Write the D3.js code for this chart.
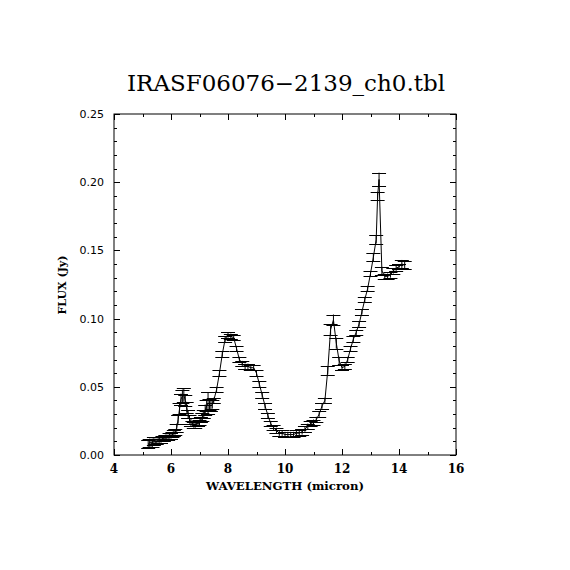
<!DOCTYPE html>
<html>
<head>
<meta charset="utf-8">
<script src="https://cdn.jsdelivr.net/npm/d3@7"></script>
<style>
  body { margin: 0; background: #fff; }
  svg { display: block; }
</style>
</head>
<body>
<svg id="chart" width="570" height="570"></svg>
<script>
// spectrum
var wavelength = [5.2, 5.25, 5.3, 5.35, 5.4, 5.45, 5.5, 5.55, 5.6, 5.65,
  5.7, 5.75, 5.8, 5.85, 5.9, 5.95, 6.0, 6.05, 6.1, 6.15,
  6.2, 6.25, 6.3, 6.35, 6.4, 6.45, 6.5, 6.55, 6.6, 6.65,
  6.7, 6.75, 6.8, 6.85, 6.9, 6.95, 7.0, 7.05, 7.1, 7.15,
  7.2, 7.25, 7.3, 7.35, 7.4, 7.45, 7.5, 7.6, 7.7, 7.8, 7.9, 8.0, 8.1,
  8.2, 8.3, 8.4, 8.5, 8.6, 8.7, 8.8, 8.9, 9.0, 9.1,
  9.2, 9.3, 9.4, 9.5, 9.6, 9.7, 9.8, 9.9, 10.0, 10.1,
  10.2, 10.3, 10.4, 10.5, 10.6, 10.7, 10.8, 10.9, 11.0, 11.1,
  11.2, 11.3, 11.4, 11.5, 11.6, 11.7, 11.8, 11.9, 12.0, 12.1,
  12.2, 12.3, 12.4, 12.5, 12.6, 12.7, 12.8, 12.9, 13.0, 13.1,
  13.2, 13.25, 13.3, 13.4, 13.5, 13.6, 13.7, 13.8, 13.9, 14.0,
  14.1, 14.2];
var flux = [0.008, 0.009, 0.009, 0.009, 0.010, 0.010, 0.010, 0.011, 0.011, 0.011,
  0.012, 0.012, 0.013, 0.013, 0.013, 0.014, 0.014, 0.015, 0.016, 0.017,
  0.020, 0.026, 0.034, 0.041, 0.043, 0.044, 0.040, 0.035, 0.030, 0.026,
  0.024, 0.023, 0.022, 0.022, 0.023, 0.023, 0.024, 0.026, 0.028, 0.030,
  0.033, 0.036, 0.038, 0.037, 0.036, 0.037, 0.040, 0.048, 0.060, 0.074, 0.085, 0.088, 0.087,
  0.086, 0.078, 0.070, 0.067, 0.065, 0.065, 0.064, 0.064, 0.060, 0.052,
  0.044, 0.036, 0.029, 0.023, 0.020, 0.018, 0.016, 0.016, 0.015, 0.015,
  0.015, 0.015, 0.016, 0.016, 0.017, 0.019, 0.021, 0.023, 0.024, 0.026,
  0.030, 0.036, 0.040, 0.062, 0.092, 0.099, 0.082, 0.069, 0.064, 0.065,
  0.070, 0.078, 0.085, 0.090, 0.096, 0.105, 0.114, 0.122, 0.133, 0.145,
  0.158, 0.190, 0.202, 0.135, 0.131, 0.131, 0.132, 0.135, 0.137, 0.138,
  0.140, 0.139];
var fluxErr = [0.003, 0.003, 0.003, 0.003, 0.003, 0.002, 0.002, 0.002, 0.002, 0.002,
  0.002, 0.002, 0.002, 0.002, 0.002, 0.002, 0.002, 0.002, 0.002, 0.002,
  0.003, 0.003, 0.004, 0.004, 0.005, 0.005, 0.004, 0.004, 0.003, 0.003,
  0.003, 0.002, 0.002, 0.002, 0.002, 0.002, 0.002, 0.002, 0.003, 0.003,
  0.004, 0.004, 0.008, 0.004, 0.004, 0.003, 0.002, 0.002, 0.002, 0.002, 0.002, 0.002, 0.002,
  0.002, 0.002, 0.002, 0.002, 0.002, 0.002, 0.002, 0.002, 0.002, 0.002,
  0.002, 0.002, 0.002, 0.002, 0.002, 0.002, 0.002, 0.002, 0.002, 0.002,
  0.002, 0.002, 0.002, 0.002, 0.002, 0.002, 0.002, 0.002, 0.002, 0.002,
  0.002, 0.002, 0.002, 0.003, 0.004, 0.004, 0.004, 0.003, 0.002, 0.002,
  0.002, 0.002, 0.002, 0.002, 0.002, 0.002, 0.002, 0.002, 0.002, 0.003,
  0.003, 0.003, 0.005, 0.003, 0.002, 0.002, 0.002, 0.002, 0.002, 0.002,
  0.003, 0.003];
var xMajorTicks = [4, 6, 8, 10, 12, 14, 16];
var yMajorTicks = [0, 0.05, 0.10, 0.15, 0.20, 0.25];

var margin = { top: 114, right: 114, bottom: 115, left: 114 };
var width = 570 - margin.left - margin.right;
var height = 570 - margin.top - margin.bottom;

var svg = d3.select("#chart");
var g = svg.append("g")
    .attr("transform", "translate(" + margin.left + "," + margin.top + ")");

var x = d3.scaleLinear().domain([4, 16]).range([0, width]);
var y = d3.scaleLinear().domain([0, 0.25]).range([height, 0]);

var data = wavelength.map(function (w, i) {
    return { w: w, f: flux[i], e: fluxErr[i] };
});

// frame
g.append("rect")
    .attr("width", width).attr("height", height)
    .attr("fill", "none").attr("stroke", "#000").attr("stroke-width", 1);

// ticks on all four sides, pointing inward
var xMinor = d3.range(4, 16.01, 1);
var yMinor = d3.range(0, 0.2501, 0.01);
function drawTicks(vals, scale, len, horizontal) {
    vals.forEach(function (v) {
        var p = Math.round(scale(v)) + 0.5;
        if (horizontal) {
            g.append("line").attr("x1", p).attr("x2", p).attr("y1", height).attr("y2", height - len);
            g.append("line").attr("x1", p).attr("x2", p).attr("y1", 0).attr("y2", len);
        } else {
            g.append("line").attr("y1", p).attr("y2", p).attr("x1", 0).attr("x2", len);
            g.append("line").attr("y1", p).attr("y2", p).attr("x1", width).attr("x2", width - len);
        }
    });
}
drawTicks(xMinor, x, 3, true);
drawTicks(xMajorTicks, x, 6, true);
drawTicks(yMinor, y, 3, false);
drawTicks(yMajorTicks, y, 6, false);
g.selectAll("line").attr("stroke", "#000").attr("stroke-width", 1);

// tick labels
g.selectAll(".xl").data(xMajorTicks).enter().append("text")
    .attr("x", function (d) { return x(d); })
    .attr("y", height + 18)
    .attr("text-anchor", "middle")
    .attr("font-family", "DejaVu Serif")
    .attr("font-size", "12px")
    .attr("font-weight", "bold")
    .text(function (d) { return d; });

g.selectAll(".yl").data(yMajorTicks).enter().append("text")
    .attr("x", -10)
    .attr("y", function (d) { return y(d) + 4; })
    .attr("text-anchor", "end")
    .attr("font-family", "DejaVu Sans")
    .attr("font-size", "11px")
    .text(function (d) { return d3.format(".2f")(d); });

// connecting line
var line = d3.line()
    .x(function (d) { return x(d.w); })
    .y(function (d) { return y(d.f); });
g.append("path")
    .datum(data)
    .attr("d", line)
    .attr("fill", "none")
    .attr("stroke", "#000")
    .attr("stroke-width", 1);

// error bars
var cap = 7;
var bars = g.selectAll(".err").data(data).enter().append("g").attr("class", "err");
bars.append("line")
    .attr("x1", function (d) { return x(d.w); })
    .attr("x2", function (d) { return x(d.w); })
    .attr("y1", function (d) { return y(d.f - d.e); })
    .attr("y2", function (d) { return y(d.f + d.e); });
bars.append("line")
    .attr("x1", function (d) { return x(d.w) - cap; })
    .attr("x2", function (d) { return x(d.w) + cap; })
    .attr("y1", function (d) { return Math.round(y(d.f - d.e)) + 0.5; })
    .attr("y2", function (d) { return Math.round(y(d.f - d.e)) + 0.5; });
bars.append("line")
    .attr("x1", function (d) { return x(d.w) - cap; })
    .attr("x2", function (d) { return x(d.w) + cap; })
    .attr("y1", function (d) { return Math.round(y(d.f + d.e)) + 0.5; })
    .attr("y2", function (d) { return Math.round(y(d.f + d.e)) + 0.5; });
bars.selectAll("line").attr("stroke", "#000").attr("stroke-width", 1);

// title and axis labels
svg.append("text")
    .attr("x", 286).attr("y", 91)
    .attr("text-anchor", "middle")
    .attr("font-family", "DejaVu Serif")
    .attr("font-size", "22px")
    .attr("textLength", 318)
    .attr("lengthAdjust", "spacingAndGlyphs")
    .text("IRASF06076\u22122139_ch0.tbl");

svg.append("text")
    .attr("x", 285).attr("y", 490)
    .attr("text-anchor", "middle")
    .attr("font-family", "DejaVu Serif")
    .attr("font-size", "11px")
    .attr("font-weight", "bold")
    .attr("textLength", 158)
    .attr("lengthAdjust", "spacingAndGlyphs")
    .text("WAVELENGTH (micron)");

svg.append("text")
    .attr("transform", "translate(66,285) rotate(-90)")
    .attr("text-anchor", "middle")
    .attr("font-family", "DejaVu Serif")
    .attr("font-size", "11px")
    .attr("font-weight", "bold")
    .text("FLUX (Jy)");
</script>
</body>
</html>
